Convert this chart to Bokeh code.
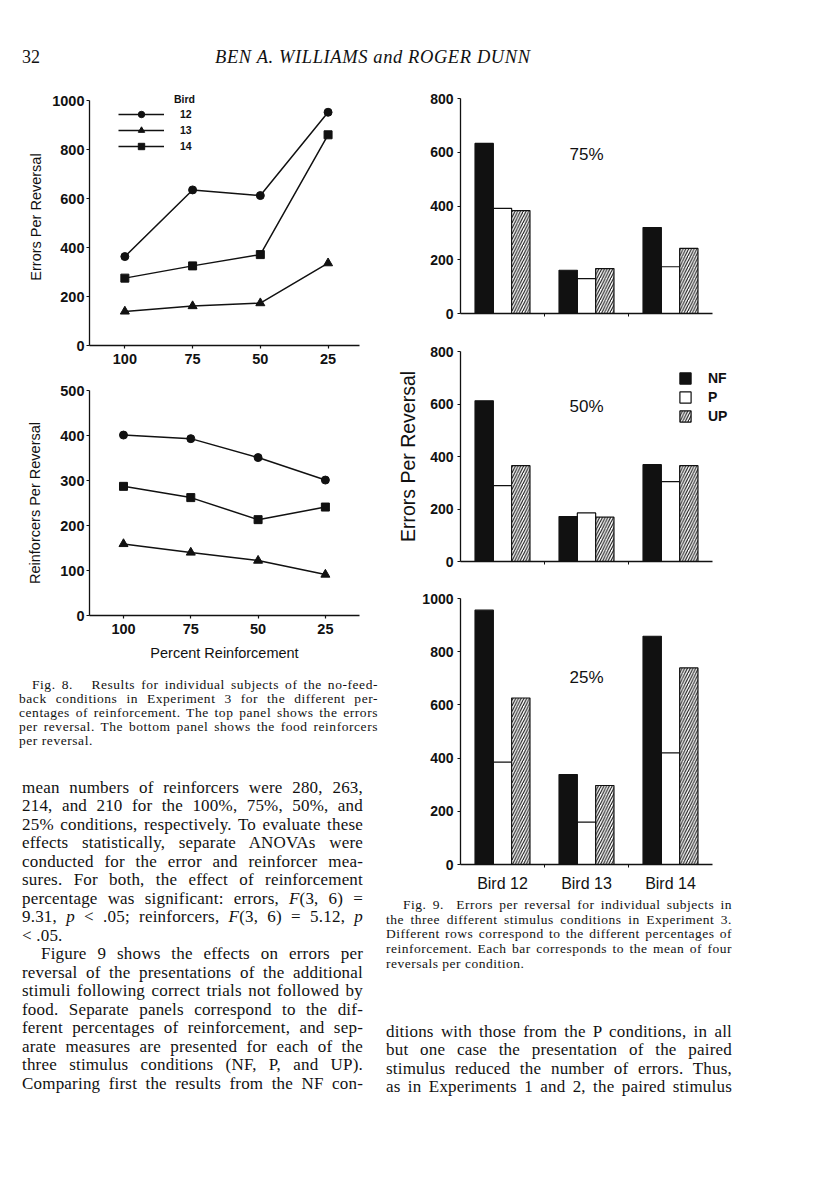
import numpy as np
from bokeh.plotting import figure
from bokeh.models import Range1d, FixedTicker, Legend, LegendItem, Label, Div, ColumnDataSource, Spacer
from bokeh.layouts import column, row
from bokeh.transform import dodge
from bokeh.embed import file_html
from bokeh.resources import INLINE

# ---------------- data ----------------
pct_labels = ["100", "75", "50", "25"]
bird_ids = ["12", "13", "14"]
err_b12 = [363, 635, 612, 952]
err_b13 = [139, 161, 173, 336]
err_b14 = [275, 325, 371, 860]
rf_b12 = [401, 393, 351, 301]
rf_b13 = [159, 140, 122, 91]
rf_b14 = [287, 262, 213, 241]

bar_birds = ["Bird 12", "Bird 13", "Bird 14"]
conditions = ["NF", "P", "UP"]
nf_75 = [633, 161, 320]
p_75 = [391, 130, 174]
up_75 = [383, 167, 242]
nf_50 = [612, 171, 369]
p_50 = [289, 185, 304]
up_50 = [365, 169, 365]
nf_25 = [956, 338, 858]
p_25 = [385, 159, 420]
up_25 = [626, 297, 739]

SANS = "Liberation Sans"
SERIF = "Liberation Serif"
INK = "#111111"


def base_axes(p, tick_font="14.5px"):
    p.grid.visible = False
    p.outline_line_color = None
    for ax in (p.xaxis[0], p.yaxis[0]):
        ax.axis_line_color = INK
        ax.axis_line_width = 1.3
        ax.major_tick_line_color = INK
        ax.major_tick_line_width = 1.2
        ax.minor_tick_line_color = None
        ax.major_tick_in = 0
        ax.major_tick_out = 3
        ax.major_label_text_font = SANS
        ax.major_label_text_font_size = tick_font
        ax.major_label_text_font_style = "bold"
        ax.major_label_text_color = INK
        ax.axis_label_text_font = SANS
        ax.axis_label_text_font_style = "normal"
        ax.axis_label_text_color = INK


# ---------------- Fig. 8 line panels ----------------
def line_panel(height, left, frame_w, top, bottom, xr, y_end, y_view_end, y_step, vals, ylabel,
               ylab_standoff, xlabel=None, legend=False):
    W = 372
    p = figure(width=W, height=height, title=None, output_backend="svg", toolbar_location=None,
               x_range=Range1d(*xr), y_range=Range1d(0, y_view_end),
               min_border_left=left, min_border_right=W - left - frame_w,
               min_border_top=top, min_border_bottom=bottom)
    base_axes(p)
    idx = list(range(len(pct_labels)))
    p.xaxis.ticker = FixedTicker(ticks=idx)
    p.xaxis.major_label_overrides = {i: lab for i, lab in zip(idx, pct_labels)}
    p.xaxis.major_tick_out = 3
    p.xaxis.major_label_standoff = 5
    p.yaxis.ticker = FixedTicker(ticks=list(range(0, y_end + 1, y_step)))
    p.yaxis.bounds = (0, y_end)
    p.yaxis.major_label_standoff = 2
    p.yaxis.axis_label = ylabel
    p.yaxis.axis_label_text_font_size = "14.5px"
    p.yaxis.axis_label_standoff = ylab_standoff
    if xlabel:
        p.xaxis.axis_label = xlabel
        p.xaxis.axis_label_text_font_size = "14.5px"
        p.xaxis.axis_label_standoff = 8
    items = []
    for bid, v, mk, sz in zip(bird_ids, vals, ["circle", "triangle", "square"], [8, 9, 8]):
        src = ColumnDataSource(dict(x=idx, y=v))
        l = p.line("x", "y", source=src, line_color=INK, line_width=1.5)
        s = p.scatter("x", "y", source=src, marker=mk, size=sz, fill_color=INK, line_color=INK)
        items.append(LegendItem(label=bid, renderers=[l, s]))
    if legend:
        lg = Legend(items=items, location=(29, 191), glyph_width=46, glyph_height=16,
                    label_height=16, spacing=0, label_standoff=16, padding=0, margin=0,
                    background_fill_alpha=0, border_line_alpha=0,
                    label_text_font=SANS, label_text_font_size="10.5px",
                    label_text_font_style="bold", label_text_color=INK)
        p.add_layout(lg)
        p.add_layout(Label(x=0.725, y=1007, text="Bird", text_align="left", text_baseline="middle",
                           text_font=SANS, text_font_size="10.5px", text_font_style="bold",
                           text_color=INK))
    return p


fig8a = line_panel(295, 80, 275, 8, 30, (-0.522, 3.464), 1000, 1049, 200,
                   [err_b12, err_b13, err_b14], "Errors Per Reversal", 5, legend=True)
fig8b = line_panel(293, 81, 270, 15, 53, (-0.505, 3.507), 500, 500, 100,
                   [rf_b12, rf_b13, rf_b14], "Reinforcers Per Reversal", 14,
                   xlabel="Percent Reinforcement")


# ---------------- Fig. 9 bar panels ----------------
def bar_panel(height, top, bottom, y_end, nf, pv, up, pct_text, pct_y,
              show_labels=False, ylabel=None, legend=False):
    W = 428
    n = len(bar_birds)
    group_px = 84.0
    frame_w = 280
    p = figure(width=W, height=height, title=None, output_backend="svg", toolbar_location=None,
               x_range=Range1d(0, frame_w / group_px), y_range=Range1d(0, y_end),
               min_border_left=80, min_border_right=W - 80 - frame_w,
               min_border_top=top, min_border_bottom=bottom)
    base_axes(p, tick_font="14px")
    centers = [i + 0.5 for i in range(n)]
    src = ColumnDataSource(dict(x=centers, NF=nf, P=pv, UP=up))
    w = 0.218
    r_p = p.vbar(x="x", top="P", width=w, source=src, fill_color="white",
                 line_color=INK, line_width=1.2)
    r_nf = p.vbar(x=dodge("x", -w, range=p.x_range), top="NF", width=w, source=src,
                  fill_color=INK, line_color=INK, line_width=1.2)
    r_up = p.vbar(x=dodge("x", w, range=p.x_range), top="UP", width=w, source=src,
                  fill_color="white", line_color=INK, line_width=1.2,
                  hatch_pattern="/", hatch_color=INK, hatch_scale=5.5, hatch_weight=1.1)
    p.xaxis.bounds = (0, n)
    p.xaxis.major_tick_out = 0
    p.xaxis.minor_tick_line_color = INK
    p.xaxis.minor_tick_in = 0
    p.xaxis.minor_tick_out = 3
    if show_labels:
        p.xaxis.ticker = FixedTicker(ticks=centers, minor_ticks=list(range(1, n)))
        p.xaxis.major_label_overrides = {c: b for c, b in zip(centers, bar_birds)}
        p.xaxis.major_label_text_font_size = "16px"
        p.xaxis.major_label_text_font_style = "normal"
        p.xaxis.major_label_standoff = 7
    else:
        p.xaxis.ticker = FixedTicker(ticks=[], minor_ticks=list(range(1, n)))
    p.yaxis.ticker = FixedTicker(ticks=list(range(0, y_end + 1, 200)))
    p.yaxis.major_label_standoff = 4
    if ylabel:
        p.yaxis.axis_label = ylabel
        p.yaxis.axis_label_text_font_size = "19.5px"
        p.yaxis.axis_label_standoff = 8
    p.add_layout(Label(x=n / 2, y=pct_y, text=pct_text, text_align="center",
                       text_baseline="middle", text_font=SANS, text_font_size="17px",
                       text_color=INK))
    if legend:
        lg = Legend(items=[LegendItem(label=c, renderers=[r]) for c, r in
                           zip(conditions, [r_nf, r_p, r_up])],
                    location=(218, 137), glyph_width=14, glyph_height=14, label_height=14,
                    spacing=3, label_standoff=16, padding=0, margin=0,
                    background_fill_alpha=0, border_line_alpha=0,
                    label_text_font=SANS, label_text_font_size="14px",
                    label_text_font_style="bold", label_text_color=INK)
        p.add_layout(lg)
    return p


bar75 = bar_panel(250, 18, 17, 800, nf_75, p_75, up_75, "75%", 590)
bar50 = bar_panel(255, 21, 24, 800, nf_50, p_50, up_50, "50%", 590,
                  ylabel="Errors Per Reversal", legend=True)
bar25 = bar_panel(313, 13, 34, 1000, nf_25, p_25, up_25, "25%", 703, show_labels=True)


# ---------------- text blocks ----------------
def text_block(lines, width, height, pad_top, pad_left, inner_w, fs, lh, ls):
    rows = []
    for txt, kind, indent in lines:
        align = "text-align:justify;text-align-last:justify;" if kind == "j" else "text-align:left;"
        rows.append(f'<div style="{align}white-space:nowrap;padding-left:{indent}px;'
                    f'height:{lh}px;">{txt}</div>')
    html = (f'<div style="box-sizing:border-box;padding-top:{pad_top}px;padding-left:{pad_left}px;'
            f'font-family:\'{SERIF}\',serif;font-size:{fs}px;line-height:{lh}px;'
            f'letter-spacing:{ls}px;color:{INK};">'
            f'<div style="width:{inner_w}px;">' + "".join(rows) + "</div></div>")
    return Div(text=html, width=width, height=height, margin=0, styles={"overflow": "hidden"})


header = Div(
    text=(f'<div style="position:relative;width:800px;height:72px;font-family:\'{SERIF}\',serif;color:{INK};">'
          '<span style="position:absolute;left:14px;top:39px;font-size:18px;line-height:20px;">32</span>'
          '<span style="position:absolute;left:207px;top:39px;font-size:18.5px;line-height:20px;'
          'font-style:italic;letter-spacing:0.6px;white-space:nowrap;">BEN A. WILLIAMS and ROGER DUNN</span>'
          '</div>'),
    width=800, height=72, margin=0)

cap8 = text_block([
    ("Fig. 8.&nbsp;&nbsp; Results for individual subjects of the no-feed-", "j", 13),
    ("back conditions in Experiment 3 for the different per-", "j", 0),
    ("centages of reinforcement. The top panel shows the errors", "j", 0),
    ("per reversal. The bottom panel shows the food reinforcers", "j", 0),
    ("per reversal.", "l", 0),
], 372, 102, 10, 11, 359, 13.5, 14, 0.55)

body_left = text_block([
    ("mean numbers of reinforcers were 280, 263,", "j", 0),
    ("214, and 210 for the 100%, 75%, 50%, and", "j", 0),
    ("25% conditions, respectively. To evaluate these", "j", 0),
    ("effects statistically, separate ANOVAs were", "j", 0),
    ("conducted for the error and reinforcer mea-", "j", 0),
    ("sures. For both, the effect of reinforcement", "j", 0),
    ("percentage was significant: errors, <i>F</i>(3, 6) =", "j", 0),
    ("9.31, <i>p</i> &lt; .05; reinforcers, <i>F</i>(3, 6) = 5.12, <i>p</i>", "j", 0),
    ("&lt; .05.", "l", 0),
    ("Figure 9 shows the effects on errors per", "j", 19),
    ("reversal of the presentations of the additional", "j", 0),
    ("stimuli following correct trials not followed by", "j", 0),
    ("food. Separate panels correspond to the dif-", "j", 0),
    ("ferent percentages of reinforcement, and sep-", "j", 0),
    ("arate measures are presented for each of the", "j", 0),
    ("three stimulus conditions (NF, P, and UP).", "j", 0),
    ("Comparing first the results from the NF con-", "j", 0),
], 372, 422, 8.75, 14, 341, 17, 18.5, 0.2)

cap9 = text_block([
    ("Fig. 9.&nbsp; Errors per reversal for individual subjects in", "j", 17),
    ("the three different stimulus conditions in Experiment 3.", "j", 0),
    ("Different rows correspond to the different percentages of", "j", 0),
    ("reinforcement. Each bar corresponds to the mean of four", "j", 0),
    ("reversals per condition.", "l", 0),
], 428, 112, 0, 6, 346, 13.5, 14.7, 0.5)

body_right = text_block([
    ("ditions with those from the P conditions, in all", "j", 0),
    ("but one case the presentation of the paired", "j", 0),
    ("stimulus reduced the number of errors. Thus,", "j", 0),
    ("as in Experiments 1 and 2, the paired stimulus", "j", 0),
], 428, 182, 12.8, 6, 346, 17, 18.4, 0.2)

left_col = column(fig8a, fig8b, cap8, body_left, spacing=0)
right_col = column(bar75, bar50, bar25, cap9, body_right, spacing=0)
content = column(Spacer(width=800, height=8), header, row(left_col, right_col, spacing=0), spacing=0)
page = row(Spacer(width=8, height=8), content, spacing=0)

open("out.html", "w").write(file_html(page, INLINE))
